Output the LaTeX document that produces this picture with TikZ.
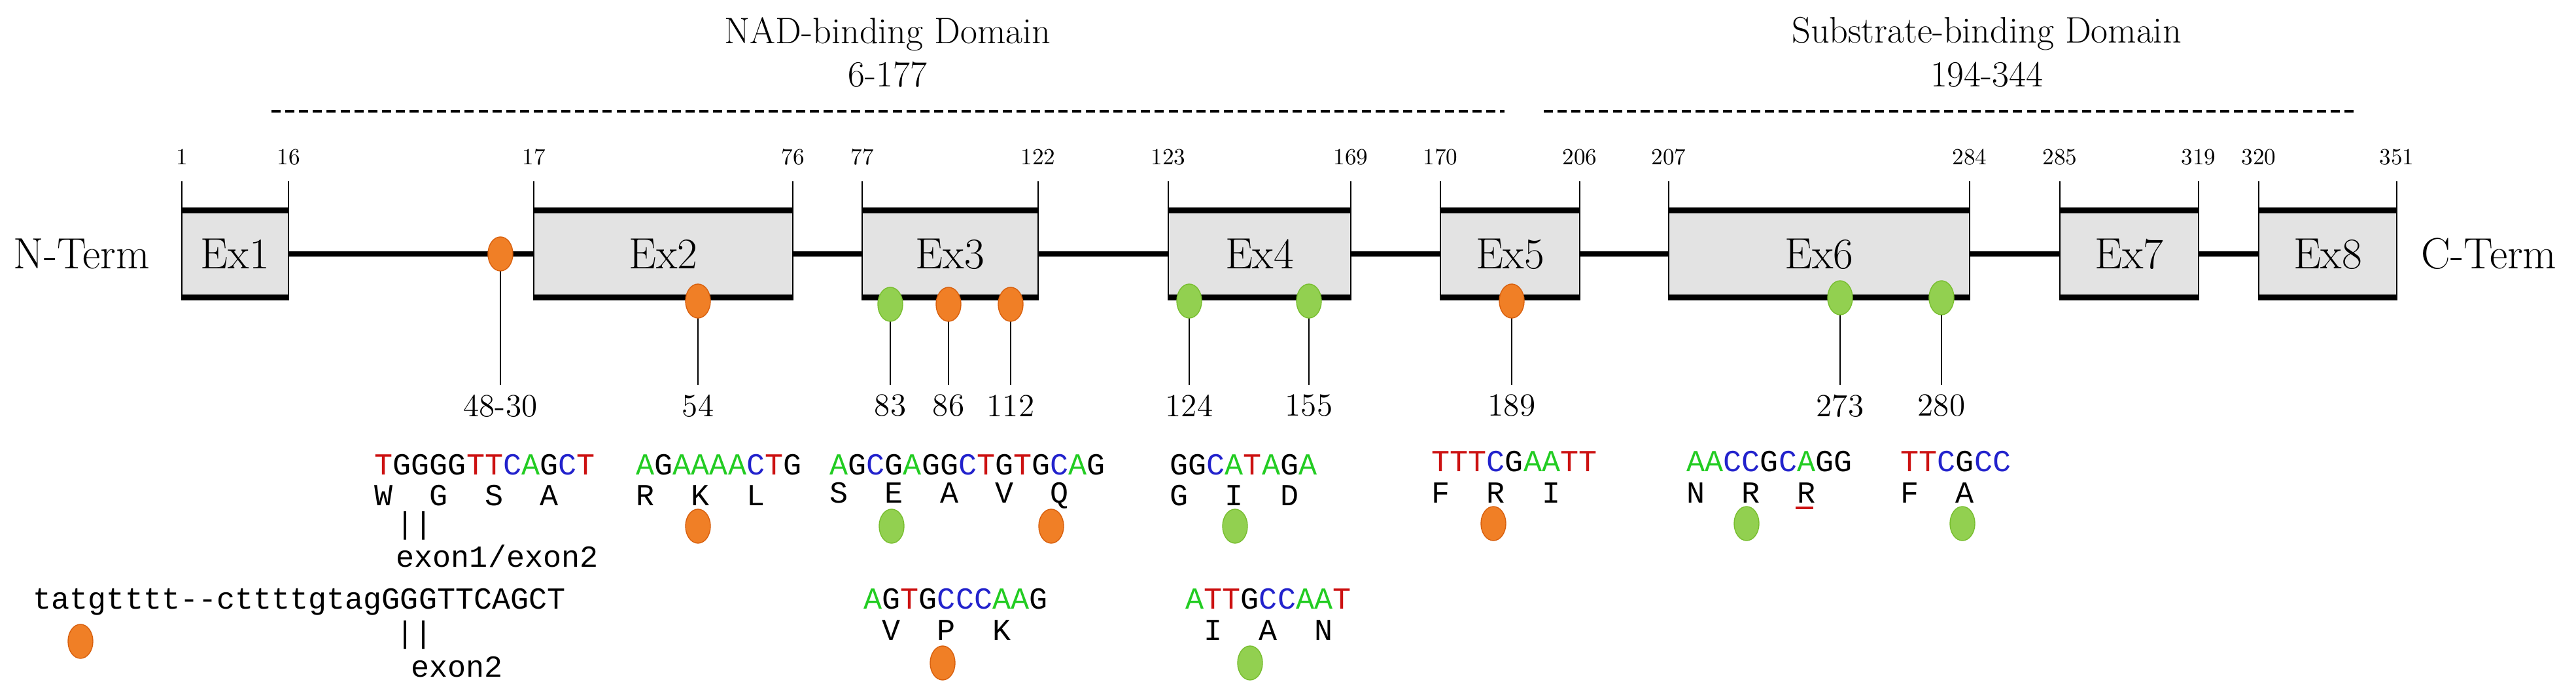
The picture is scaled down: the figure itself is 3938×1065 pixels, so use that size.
\documentclass[tikz,border=0pt]{standalone}
\usepackage{fontspec}
\newfontfamily\seqfont{Liberation Mono}
\usetikzlibrary{shapes.geometric}
\definecolor{dotorange}{HTML}{F07F26}
\definecolor{dotorangeb}{HTML}{D8600E}
\definecolor{dotgreen}{HTML}{92D050}
\definecolor{dotgreenb}{HTML}{78BE30}
\definecolor{boxgray}{HTML}{E3E3E3}
\definecolor{ntA}{HTML}{22CC22}
\definecolor{ntC}{HTML}{2222CC}
\definecolor{ntT}{HTML}{CC1111}
\newcommand{\nA}{\textcolor{ntA}{A}}
\newcommand{\nC}{\textcolor{ntC}{C}}
\newcommand{\nT}{\textcolor{ntT}{T}}
\newcommand{\nG}{G}
\tikzset{
  exon/.style={draw, line width=0.8pt, fill=boxgray, minimum height=1.3cm, inner sep=0pt, font=\fontsize{19}{19}\selectfont},
  tick/.style={font=\fontsize{10}{10}\selectfont},
  odot/.style={ellipse, draw=dotorangeb, fill=dotorange, minimum width=0.38cm, minimum height=0.52cm, inner sep=0pt},
  gdot/.style={ellipse, draw=dotgreenb, fill=dotgreen, minimum width=0.38cm, minimum height=0.52cm, inner sep=0pt},
  posl/.style={font=\fontsize{14}{14}\selectfont},
  seq/.style={anchor=west, inner sep=0pt, font=\seqfont\fontsize{13.3}{13.3}\selectfont},
  title/.style={align=center, font=\fontsize{16}{19}\selectfont},
  term/.style={font=\fontsize{19}{19}\selectfont},
}
\begin{document}
\begin{tikzpicture}[x=0.01cm, y=-0.01cm]
\useasboundingbox (0,0) rectangle (3938,1065);

% domains
\node[title] at (1357,80) {NAD-binding Domain\\6-177};
\node[title] at (3037,80) {Substrate-binding Domain\\194-344};
\draw[dash pattern=on 4pt off 2pt, line width=0.9pt] (415,170) -- (2300,170);
\draw[dash pattern=on 4pt off 2pt, line width=0.9pt] (2360,170) -- (3600,170);

% backbone
\draw[line width=2pt] (441,388) -- (3453,388);

% exons (x from, x to, label, start, end)
\foreach \a/\b/\l/\s/\e in {278/441/Ex1/1/16, 816/1212/Ex2/17/76, 1318/1587/Ex3/77/122,
  1786/2065/Ex4/123/169, 2202/2415/Ex5/170/206, 2551/3011/Ex6/207/284,
  3149/3361/Ex7/285/319, 3453/3664/Ex8/320/351}{
  \node[exon, minimum width={(\b-\a)*0.01cm}] (\l) at ({(\a+\b)/2},388) {\l};
  \draw[line width=2.4pt] (\l.north west) -- (\l.north east);
  \draw[line width=2.4pt] (\l.south west) -- (\l.south east);
  \draw[line width=0.8pt] (\a,277) -- (\a,323);
  \draw[line width=0.8pt] (\b,277) -- (\b,323);
  \node[tick] at (\a,240) {\s};
  \node[tick] at (\b,240) {\e};
}
\node[term] (nterm) at (125,388) {N-Term};
\node[term] (cterm) at (3805,388) {C-Term};

% variant sites
\foreach \n/\x/\y/\s/\t in {d4830/765/388/odot/48-30, d54/1067/460/odot/54, d83/1361/465/gdot/83,
  d86/1450/465/odot/86, d112/1545/465/odot/112, d124/1818/460/gdot/124, d155/2001/460/gdot/155,
  d189/2311/460/odot/189, d273/2813/455/gdot/273, d280/2968/455/gdot/280}{
  \draw[line width=0.8pt] (\x,\y) -- (\x,588);
  \node[\s] (\n) at (\x,\y) {};
  \node[posl] (l\n) at (\x,620) {\t};
}

% sequences, first row
\node[seq] (s1) at (572,710) {\nT\nG\nG\nG\nG\nT\nT\nC\nA\nG\nC\nT};
\node[seq] (a1) at (572,757) {W~~G~~S~~A};
\node[seq] at (605,803) {||};
\node[seq] at (605,850) {exon1/exon2};
\node[seq] (s2) at (972,710) {\nA\nG\nA\nA\nA\nA\nC\nT\nG};
\node[seq] at (972,757) {R~~K~~L};
\node[odot] at (1067,804) {};
\node[seq] (s3) at (1268,710) {\nA\nG\nC\nG\nA\nG\nG\nC\nT\nG\nT\nG\nC\nA\nG};
\node[seq] at (1268,757) {S~~E~~A~~V~~Q};
\node[gdot] at (1363,804) {};
\node[odot] at (1607,804) {};
\node[seq] (s4) at (1788,710) {\nG\nG\nC\nA\nT\nA\nG\nA};
\node[seq] at (1788,757) {G~~I~~D};
\node[gdot] at (1888,804) {};
\node[seq] (s5) at (2188,705) {\nT\nT\nT\nC\nG\nA\nA\nT\nT};
\node[seq] at (2188,753) {F~~R~~I};
\node[odot] at (2283,800) {};
\node[seq] (s6) at (2578,705) {\nA\nA\nC\nC\nG\nC\nA\nG\nG};
\node[seq] (a6) at (2578,753) {N~~R~~R};
\draw[ntT, line width=1.2pt] (2745,776) -- (2772,776);
\node[gdot] at (2670,800) {};
\node[seq] (s7) at (2905,705) {\nT\nT\nC\nG\nC\nC};
\node[seq] at (2905,753) {F~~A};
\node[gdot] at (3000,800) {};

% sequences, second row
\node[seq] (s8) at (50,920) {tatgtttt--cttttgtagGGGTTCAGCT};
\node[odot] at (123,980) {};
\node[seq] at (605,970) {||};
\node[seq] at (628,1019) {exon2};
\node[seq] (s9) at (1320,915) {\nA\nG\nT\nG\nC\nC\nC\nA\nA\nG};
\node[seq] at (1348,963) {V~~P~~K};
\node[odot] at (1441,1013) {};
\node[seq] (s10) at (1812,915) {\nA\nT\nT\nG\nC\nC\nA\nA\nT};
\node[seq] at (1840,963) {I~~A~~N};
\node[gdot] at (1911,1013) {};
\end{tikzpicture}
\end{document}
